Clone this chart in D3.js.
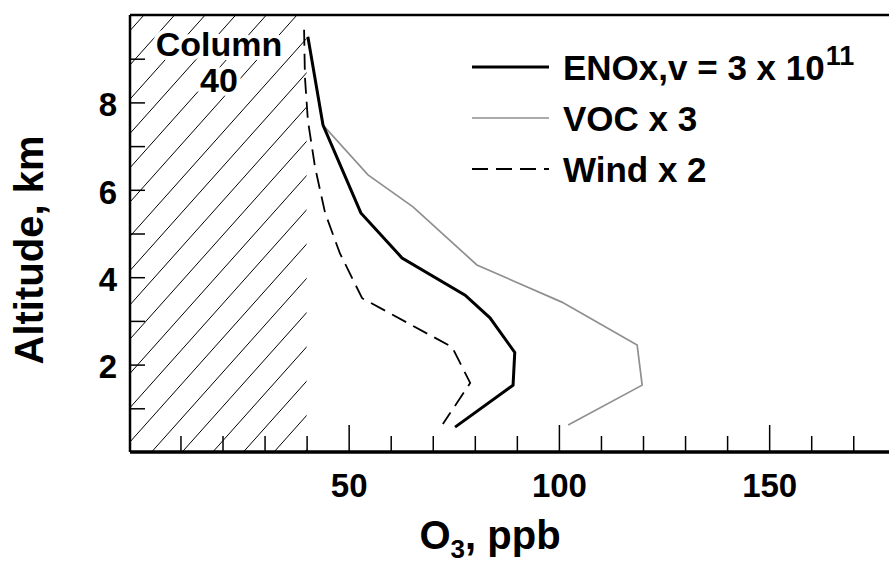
<!DOCTYPE html>
<html>
<head>
<meta charset="utf-8">
<script src="https://d3js.org/d3.v7.min.js"></script>
<style>
  body { margin: 0; background: #fff; }
  svg text { font-family: "Liberation Sans", Arial, sans-serif; font-weight: bold; fill: #000; }
</style>
</head>
<body>
<div id="chart-area"></div>
<script>
// O3 profiles (ppb) vs altitude (km)
var enoxO3  = [40.3, 43.9, 52.9, 62.7, 77.7, 83.6, 89.5, 89.1, 75.3];
var enoxAlt = [9.50, 7.48, 5.47, 4.44, 3.59, 3.07, 2.28, 1.53, 0.57];

var vocO3  = [40.3, 43.9, 54.6, 65.3, 80.5, 100.7, 118.6, 119.8, 102.2];
var vocAlt = [9.50, 7.48, 6.34, 5.61, 4.28, 3.43, 2.45, 1.53, 0.62];

var windO3  = [39.4, 39.6, 40.3, 42.0, 44.4, 47.9, 53.2, 74.6, 78.9, 72.4];
var windAlt = [9.66, 8.58, 7.59, 6.52, 5.47, 4.55, 3.52, 2.40, 1.58, 0.64];

var columnO3 = 40;

var xMajor = [50, 100, 150];
var xMinor = [10, 20, 30, 40, 60, 70, 80, 90, 110, 120, 130, 140, 160, 170];
var yLabeled = [2, 4, 6, 8];
var yTicks = [1, 2, 3, 4, 5, 6, 7, 8, 9];

var width = 889;
var height = 563;
var margin = { top: 15, right: 0, bottom: 111, left: 130 };

var svg = d3.select("#chart-area")
  .append("svg")
  .attr("width", width)
  .attr("height", height);

var x = d3.scaleLinear()
  .domain([-2, 178.5])
  .range([margin.left, width - margin.right]);

var y = d3.scaleLinear()
  .domain([0, 10])
  .range([height - margin.bottom, margin.top]);

// hatched "column" region
svg.append("clipPath")
  .attr("id", "colclip")
  .append("rect")
  .attr("x", x(-2))
  .attr("y", y(10))
  .attr("width", x(columnO3) - x(-2))
  .attr("height", y(0) - y(10));

var hatch = svg.append("g").attr("clip-path", "url(#colclip)");
var slope = 1.12, step = 30.6;
for (var i = -12; i < 14; i++) {
  var x0 = -1.4 + i * step;
  hatch.append("line")
    .attr("x1", x0).attr("y1", y(0))
    .attr("x2", x0 + 450).attr("y2", y(0) - 450 * slope)
    .attr("stroke", "#000")
    .attr("stroke-width", 1);
}

// column label with white halo
[["Column", 56], ["40", 92]].forEach(function (t) {
  svg.append("text")
    .attr("x", 219)
    .attr("y", t[1])
    .attr("text-anchor", "middle")
    .attr("font-size", "34px")
    .attr("stroke", "#fff")
    .attr("stroke-width", 8)
    .attr("paint-order", "stroke")
    .text(t[0]);
});

// axes
var minorAxis = d3.axisBottom(x).tickValues(xMinor).tickSize(-16).tickFormat("");
svg.append("g")
  .attr("transform", "translate(0," + y(0) + ")")
  .call(minorAxis)
  .call(g => g.select(".domain").remove())
  .selectAll("line").attr("stroke-width", 1.5);

var majorAxis = d3.axisBottom(x).tickValues(xMajor).tickSize(-27).tickPadding(22);
var gx = svg.append("g")
  .attr("transform", "translate(0," + y(0) + ")")
  .call(majorAxis)
  .call(g => g.select(".domain").remove());
gx.selectAll("line").attr("stroke-width", 1.5);
gx.selectAll("text").attr("font-size", "33px").attr("font-family", null);

var leftAxis = d3.axisLeft(y).tickValues(yTicks).tickSize(-15).tickPadding(13)
  .tickFormat(d => yLabeled.indexOf(d) >= 0 ? d : "");
var gy = svg.append("g")
  .attr("transform", "translate(" + x(-2) + ",0)")
  .call(leftAxis)
  .call(g => g.select(".domain").remove());
gy.selectAll("line").attr("stroke-width", 1.5);
gy.selectAll("text").attr("font-size", "33px").attr("font-family", null).attr("dy", "0.4em");

// frame
svg.append("line")
  .attr("x1", x(-2)).attr("y1", y(10)).attr("x2", x(-2)).attr("y2", y(0))
  .attr("stroke", "#000").attr("stroke-width", 2.5);
svg.append("line")
  .attr("x1", x(-2)).attr("y1", y(10)).attr("x2", width).attr("y2", y(10))
  .attr("stroke", "#000").attr("stroke-width", 2.5);
svg.append("line")
  .attr("x1", x(-2)).attr("y1", y(0)).attr("x2", width).attr("y2", y(0))
  .attr("stroke", "#000").attr("stroke-width", 3.5);

// profiles
var line = d3.line().x(d => x(d[0])).y(d => y(d[1]));

svg.append("path")
  .datum(d3.zip(vocO3, vocAlt))
  .attr("d", line)
  .attr("fill", "none")
  .attr("stroke", "#8f8f8f")
  .attr("stroke-width", 1.7);

svg.append("path")
  .datum(d3.zip(windO3, windAlt))
  .attr("d", line)
  .attr("fill", "none")
  .attr("stroke", "#000")
  .attr("stroke-width", 1.8)
  .attr("stroke-dasharray", "16,8");

svg.append("path")
  .datum(d3.zip(enoxO3, enoxAlt))
  .attr("d", line)
  .attr("fill", "none")
  .attr("stroke", "#000")
  .attr("stroke-width", 3);

// legend
var legend = [
  { label: "ENOx,v = 3 x 10", sup: "11", color: "#000", w: 3, dash: null },
  { label: "VOC x 3", sup: null, color: "#8f8f8f", w: 1.7, dash: null },
  { label: "Wind x 2", sup: null, color: "#000", w: 1.8, dash: "16,8" }
];
var lg = svg.append("g").attr("transform", "translate(472,67)");
legend.forEach(function (d, i) {
  var row = lg.append("g").attr("transform", "translate(0," + i * 51 + ")");
  row.append("line")
    .attr("x1", 0).attr("x2", 77)
    .attr("stroke", d.color)
    .attr("stroke-width", d.w)
    .attr("stroke-dasharray", d.dash);
  var t = row.append("text")
    .attr("x", 91)
    .attr("y", 13)
    .attr("font-size", "35px")
    .text(d.label);
  if (d.sup) {
    t.append("tspan")
      .attr("dx", 1)
      .attr("dy", -15)
      .attr("font-size", "27px")
      .text(d.sup);
  }
});

// axis titles
var xt = svg.append("text")
  .attr("x", 490)
  .attr("y", 549)
  .attr("text-anchor", "middle")
  .attr("font-size", "40px")
  .text("O");
xt.append("tspan").attr("dy", 9).attr("font-size", "26px").text("3");
xt.append("tspan").attr("dy", -9).text(", ppb");

svg.append("text")
  .attr("transform", "translate(43,250) rotate(-90)")
  .attr("text-anchor", "middle")
  .attr("font-size", "40px")
  .text("Altitude, km");
</script>
</body>
</html>
